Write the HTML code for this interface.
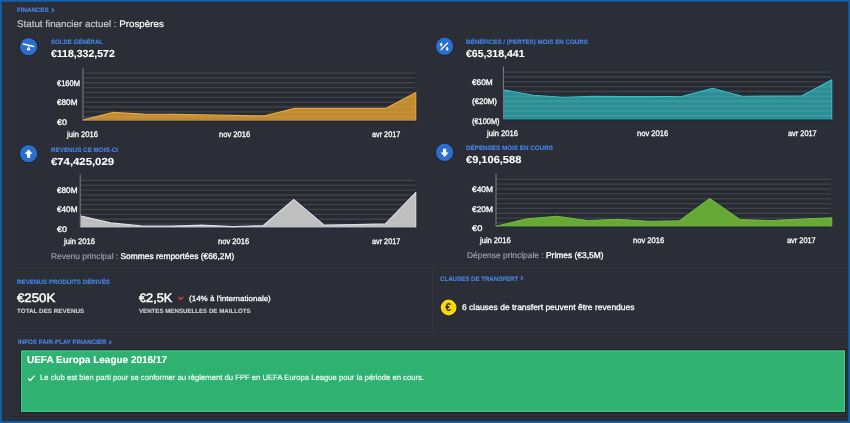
<!DOCTYPE html>
<html lang="fr"><head><meta charset="utf-8"><title>Finances</title>
<style>
html,body{margin:0;padding:0;background:#1e5fa2;}
body{width:850px;height:423px;overflow:hidden;font-family:"Liberation Sans",sans-serif;}
#app{position:relative;width:850px;height:423px;overflow:hidden;background:#1e5fa2;}
#b2{position:absolute;left:1px;top:1px;width:848px;height:421px;background:#0c559f;}
#inner{position:absolute;left:2px;top:2px;width:846px;height:419px;background:#2d2f38;}
#panel{position:absolute;left:11px;top:2px;width:837px;height:414px;background:#2c2e37;border-bottom:1.5px solid #24252d;}
.t{position:absolute;white-space:nowrap;line-height:1;transform-origin:0 0;display:block;-webkit-text-stroke-color:currentColor;text-rendering:geometricPrecision;}
.t span{-webkit-text-stroke-color:#c6c7cb;}
.sep{position:absolute;background:#31333c;}
#ffp{position:absolute;left:20px;top:349px;width:826px;height:64px;}
#coin{position:absolute;left:445.4px;top:302.8px;font-size:10px;font-weight:700;color:#2a2410;line-height:1;}
svg{position:absolute;left:0;top:0;}
</style></head><body>
<div id="app"><div id="b2"></div><div id="inner"></div><div id="panel"></div>
<div class="sep" style="left:11px;top:268px;width:837px;height:1px"></div>
<div class="sep" style="left:11px;top:331.5px;width:837px;height:1px"></div>
<div class="sep" style="left:432px;top:268px;width:1px;height:64px"></div>
<div id="ffp"></div>
<svg width="850" height="423" viewBox="0 0 850 423"><rect x="20" y="349.3" width="826" height="63.5" fill="#2b1630"/><rect x="21" y="350.4" width="824" height="61.5" fill="#2fb271"/><rect x="21.6" y="351" width="822.8" height="60.3" fill="none" stroke="#3ad88c" stroke-opacity="0.75" stroke-width="1.2"/><rect x="83.0" y="73.0" width="331.8" height="47.7" fill="#000" fill-opacity="0.07"/><line x1="83.0" y1="73.05" x2="414.8" y2="73.05" stroke="#41434a" stroke-width="1.35"/><line x1="83.0" y1="77.90" x2="414.8" y2="77.90" stroke="#41434a" stroke-width="1.35"/><line x1="83.0" y1="82.75" x2="414.8" y2="82.75" stroke="#41434a" stroke-width="1.35"/><line x1="83.0" y1="87.60" x2="414.8" y2="87.60" stroke="#41434a" stroke-width="1.35"/><line x1="83.0" y1="92.45" x2="414.8" y2="92.45" stroke="#41434a" stroke-width="1.35"/><line x1="83.0" y1="97.30" x2="414.8" y2="97.30" stroke="#41434a" stroke-width="1.35"/><line x1="83.0" y1="102.15" x2="414.8" y2="102.15" stroke="#41434a" stroke-width="1.35"/><line x1="83.0" y1="107.00" x2="414.8" y2="107.00" stroke="#41434a" stroke-width="1.35"/><line x1="83.0" y1="111.85" x2="414.8" y2="111.85" stroke="#41434a" stroke-width="1.35"/><line x1="83.0" y1="116.70" x2="414.8" y2="116.70" stroke="#41434a" stroke-width="1.35"/><polygon points="83.0,120.7 83.0,119.9 113.3,112.4 143.5,114.1 173.8,114.4 204.0,114.8 234.3,115.4 264.5,115.9 294.8,108.3 325.0,108.4 355.3,108.4 385.5,108.4 415.8,92.6 415.8,120.7" fill="none" stroke="#1a2040" stroke-width="2" stroke-linejoin="round"/><clipPath id="cp1"><polygon points="83.0,120.7 83.0,119.9 113.3,112.4 143.5,114.1 173.8,114.4 204.0,114.8 234.3,115.4 264.5,115.9 294.8,108.3 325.0,108.4 355.3,108.4 385.5,108.4 415.8,92.6 415.8,120.7"/></clipPath><polygon points="83.0,120.7 83.0,119.9 113.3,112.4 143.5,114.1 173.8,114.4 204.0,114.8 234.3,115.4 264.5,115.9 294.8,108.3 325.0,108.4 355.3,108.4 385.5,108.4 415.8,92.6 415.8,120.7" fill="#c08b30"/><g clip-path="url(#cp1)"><line x1="83.0" y1="73.05" x2="415.8" y2="73.05" stroke="#fff" stroke-opacity="0.07" stroke-width="1.35"/><line x1="83.0" y1="77.90" x2="415.8" y2="77.90" stroke="#fff" stroke-opacity="0.07" stroke-width="1.35"/><line x1="83.0" y1="82.75" x2="415.8" y2="82.75" stroke="#fff" stroke-opacity="0.07" stroke-width="1.35"/><line x1="83.0" y1="87.60" x2="415.8" y2="87.60" stroke="#fff" stroke-opacity="0.07" stroke-width="1.35"/><line x1="83.0" y1="92.45" x2="415.8" y2="92.45" stroke="#fff" stroke-opacity="0.07" stroke-width="1.35"/><line x1="83.0" y1="97.30" x2="415.8" y2="97.30" stroke="#fff" stroke-opacity="0.07" stroke-width="1.35"/><line x1="83.0" y1="102.15" x2="415.8" y2="102.15" stroke="#fff" stroke-opacity="0.07" stroke-width="1.35"/><line x1="83.0" y1="107.00" x2="415.8" y2="107.00" stroke="#fff" stroke-opacity="0.07" stroke-width="1.35"/><line x1="83.0" y1="111.85" x2="415.8" y2="111.85" stroke="#fff" stroke-opacity="0.07" stroke-width="1.35"/><line x1="83.0" y1="116.70" x2="415.8" y2="116.70" stroke="#fff" stroke-opacity="0.07" stroke-width="1.35"/></g><polyline points="83.0,119.9 113.3,112.4 143.5,114.1 173.8,114.4 204.0,114.8 234.3,115.4 264.5,115.9 294.8,108.3 325.0,108.4 355.3,108.4 385.5,108.4 415.8,92.6 415.8,120.7" fill="none" stroke="#eaa93a" stroke-width="1.1" stroke-linejoin="round"/><line x1="83.0" y1="68.00" x2="83.0" y2="120.70" stroke="#7c7e86" stroke-width="1"/><rect x="80.2" y="180.4" width="334.6" height="47.2" fill="#000" fill-opacity="0.07"/><line x1="80.2" y1="180.40" x2="414.8" y2="180.40" stroke="#41434a" stroke-width="1.35"/><line x1="80.2" y1="185.25" x2="414.8" y2="185.25" stroke="#41434a" stroke-width="1.35"/><line x1="80.2" y1="190.10" x2="414.8" y2="190.10" stroke="#41434a" stroke-width="1.35"/><line x1="80.2" y1="194.95" x2="414.8" y2="194.95" stroke="#41434a" stroke-width="1.35"/><line x1="80.2" y1="199.80" x2="414.8" y2="199.80" stroke="#41434a" stroke-width="1.35"/><line x1="80.2" y1="204.65" x2="414.8" y2="204.65" stroke="#41434a" stroke-width="1.35"/><line x1="80.2" y1="209.50" x2="414.8" y2="209.50" stroke="#41434a" stroke-width="1.35"/><line x1="80.2" y1="214.35" x2="414.8" y2="214.35" stroke="#41434a" stroke-width="1.35"/><line x1="80.2" y1="219.20" x2="414.8" y2="219.20" stroke="#41434a" stroke-width="1.35"/><line x1="80.2" y1="224.05" x2="414.8" y2="224.05" stroke="#41434a" stroke-width="1.35"/><polygon points="80.2,227.6 80.2,215.8 110.7,222.9 141.2,225.9 171.7,226.1 202.2,225.1 232.7,226.6 263.3,225.5 293.8,199.3 324.3,225.1 354.8,224.6 385.3,223.9 415.8,192.3 415.8,227.6" fill="none" stroke="#1a2040" stroke-width="2" stroke-linejoin="round"/><clipPath id="cp2"><polygon points="80.2,227.6 80.2,215.8 110.7,222.9 141.2,225.9 171.7,226.1 202.2,225.1 232.7,226.6 263.3,225.5 293.8,199.3 324.3,225.1 354.8,224.6 385.3,223.9 415.8,192.3 415.8,227.6"/></clipPath><polygon points="80.2,227.6 80.2,215.8 110.7,222.9 141.2,225.9 171.7,226.1 202.2,225.1 232.7,226.6 263.3,225.5 293.8,199.3 324.3,225.1 354.8,224.6 385.3,223.9 415.8,192.3 415.8,227.6" fill="#bfbfbf"/><g clip-path="url(#cp2)"><line x1="80.2" y1="180.40" x2="415.8" y2="180.40" stroke="#fff" stroke-opacity="0.00" stroke-width="1.35"/><line x1="80.2" y1="185.25" x2="415.8" y2="185.25" stroke="#fff" stroke-opacity="0.00" stroke-width="1.35"/><line x1="80.2" y1="190.10" x2="415.8" y2="190.10" stroke="#fff" stroke-opacity="0.00" stroke-width="1.35"/><line x1="80.2" y1="194.95" x2="415.8" y2="194.95" stroke="#fff" stroke-opacity="0.00" stroke-width="1.35"/><line x1="80.2" y1="199.80" x2="415.8" y2="199.80" stroke="#fff" stroke-opacity="0.00" stroke-width="1.35"/><line x1="80.2" y1="204.65" x2="415.8" y2="204.65" stroke="#fff" stroke-opacity="0.00" stroke-width="1.35"/><line x1="80.2" y1="209.50" x2="415.8" y2="209.50" stroke="#fff" stroke-opacity="0.00" stroke-width="1.35"/><line x1="80.2" y1="214.35" x2="415.8" y2="214.35" stroke="#fff" stroke-opacity="0.00" stroke-width="1.35"/><line x1="80.2" y1="219.20" x2="415.8" y2="219.20" stroke="#fff" stroke-opacity="0.00" stroke-width="1.35"/><line x1="80.2" y1="224.05" x2="415.8" y2="224.05" stroke="#fff" stroke-opacity="0.00" stroke-width="1.35"/></g><polyline points="80.2,215.8 110.7,222.9 141.2,225.9 171.7,226.1 202.2,225.1 232.7,226.6 263.3,225.5 293.8,199.3 324.3,225.1 354.8,224.6 385.3,223.9 415.8,192.3 415.8,227.6" fill="none" stroke="#dedede" stroke-width="1.1" stroke-linejoin="round"/><line x1="80.2" y1="174.60" x2="80.2" y2="227.60" stroke="#7c7e86" stroke-width="1"/><rect x="503.4" y="72.1" width="327.4" height="47.3" fill="#000" fill-opacity="0.07"/><line x1="503.4" y1="72.10" x2="830.8" y2="72.10" stroke="#41434a" stroke-width="1.35"/><line x1="503.4" y1="76.95" x2="830.8" y2="76.95" stroke="#41434a" stroke-width="1.35"/><line x1="503.4" y1="81.80" x2="830.8" y2="81.80" stroke="#41434a" stroke-width="1.35"/><line x1="503.4" y1="86.65" x2="830.8" y2="86.65" stroke="#41434a" stroke-width="1.35"/><line x1="503.4" y1="91.50" x2="830.8" y2="91.50" stroke="#41434a" stroke-width="1.35"/><line x1="503.4" y1="96.35" x2="830.8" y2="96.35" stroke="#41434a" stroke-width="1.35"/><line x1="503.4" y1="101.20" x2="830.8" y2="101.20" stroke="#41434a" stroke-width="1.35"/><line x1="503.4" y1="106.05" x2="830.8" y2="106.05" stroke="#41434a" stroke-width="1.35"/><line x1="503.4" y1="110.90" x2="830.8" y2="110.90" stroke="#41434a" stroke-width="1.35"/><line x1="503.4" y1="115.75" x2="830.8" y2="115.75" stroke="#41434a" stroke-width="1.35"/><polygon points="503.4,119.4 503.4,89.7 533.3,95.2 563.1,97.2 593.0,96.4 622.8,96.6 652.7,96.6 682.5,96.2 712.4,88.3 742.2,96.2 772.1,96.0 801.9,95.8 831.8,79.7 831.8,119.4" fill="none" stroke="#1a2040" stroke-width="2" stroke-linejoin="round"/><clipPath id="cp3"><polygon points="503.4,119.4 503.4,89.7 533.3,95.2 563.1,97.2 593.0,96.4 622.8,96.6 652.7,96.6 682.5,96.2 712.4,88.3 742.2,96.2 772.1,96.0 801.9,95.8 831.8,79.7 831.8,119.4"/></clipPath><polygon points="503.4,119.4 503.4,89.7 533.3,95.2 563.1,97.2 593.0,96.4 622.8,96.6 652.7,96.6 682.5,96.2 712.4,88.3 742.2,96.2 772.1,96.0 801.9,95.8 831.8,79.7 831.8,119.4" fill="#2c8f96"/><g clip-path="url(#cp3)"><line x1="503.4" y1="72.10" x2="831.8" y2="72.10" stroke="#fff" stroke-opacity="0.10" stroke-width="1.35"/><line x1="503.4" y1="76.95" x2="831.8" y2="76.95" stroke="#fff" stroke-opacity="0.10" stroke-width="1.35"/><line x1="503.4" y1="81.80" x2="831.8" y2="81.80" stroke="#fff" stroke-opacity="0.10" stroke-width="1.35"/><line x1="503.4" y1="86.65" x2="831.8" y2="86.65" stroke="#fff" stroke-opacity="0.10" stroke-width="1.35"/><line x1="503.4" y1="91.50" x2="831.8" y2="91.50" stroke="#fff" stroke-opacity="0.10" stroke-width="1.35"/><line x1="503.4" y1="96.35" x2="831.8" y2="96.35" stroke="#fff" stroke-opacity="0.10" stroke-width="1.35"/><line x1="503.4" y1="101.20" x2="831.8" y2="101.20" stroke="#fff" stroke-opacity="0.10" stroke-width="1.35"/><line x1="503.4" y1="106.05" x2="831.8" y2="106.05" stroke="#fff" stroke-opacity="0.10" stroke-width="1.35"/><line x1="503.4" y1="110.90" x2="831.8" y2="110.90" stroke="#fff" stroke-opacity="0.10" stroke-width="1.35"/><line x1="503.4" y1="115.75" x2="831.8" y2="115.75" stroke="#fff" stroke-opacity="0.10" stroke-width="1.35"/></g><polyline points="503.4,89.7 533.3,95.2 563.1,97.2 593.0,96.4 622.8,96.6 652.7,96.6 682.5,96.2 712.4,88.3 742.2,96.2 772.1,96.0 801.9,95.8 831.8,79.7 831.8,119.4" fill="none" stroke="#3cc0c0" stroke-width="1.1" stroke-linejoin="round"/><line x1="503.4" y1="66.40" x2="503.4" y2="119.40" stroke="#7c7e86" stroke-width="1"/><rect x="496.0" y="179.3" width="334.8" height="47.1" fill="#000" fill-opacity="0.07"/><line x1="496.0" y1="179.30" x2="830.8" y2="179.30" stroke="#41434a" stroke-width="1.35"/><line x1="496.0" y1="184.15" x2="830.8" y2="184.15" stroke="#41434a" stroke-width="1.35"/><line x1="496.0" y1="189.00" x2="830.8" y2="189.00" stroke="#41434a" stroke-width="1.35"/><line x1="496.0" y1="193.85" x2="830.8" y2="193.85" stroke="#41434a" stroke-width="1.35"/><line x1="496.0" y1="198.70" x2="830.8" y2="198.70" stroke="#41434a" stroke-width="1.35"/><line x1="496.0" y1="203.55" x2="830.8" y2="203.55" stroke="#41434a" stroke-width="1.35"/><line x1="496.0" y1="208.40" x2="830.8" y2="208.40" stroke="#41434a" stroke-width="1.35"/><line x1="496.0" y1="213.25" x2="830.8" y2="213.25" stroke="#41434a" stroke-width="1.35"/><line x1="496.0" y1="218.10" x2="830.8" y2="218.10" stroke="#41434a" stroke-width="1.35"/><line x1="496.0" y1="222.95" x2="830.8" y2="222.95" stroke="#41434a" stroke-width="1.35"/><polygon points="496.0,226.4 496.0,226.3 526.5,218.9 557.1,216.2 587.6,220.5 618.1,219.3 648.6,221.3 679.2,220.9 709.7,198.4 740.2,219.6 770.7,220.5 801.3,219.1 831.8,217.8 831.8,226.4" fill="none" stroke="#1a2040" stroke-width="2" stroke-linejoin="round"/><clipPath id="cp4"><polygon points="496.0,226.4 496.0,226.3 526.5,218.9 557.1,216.2 587.6,220.5 618.1,219.3 648.6,221.3 679.2,220.9 709.7,198.4 740.2,219.6 770.7,220.5 801.3,219.1 831.8,217.8 831.8,226.4"/></clipPath><polygon points="496.0,226.4 496.0,226.3 526.5,218.9 557.1,216.2 587.6,220.5 618.1,219.3 648.6,221.3 679.2,220.9 709.7,198.4 740.2,219.6 770.7,220.5 801.3,219.1 831.8,217.8 831.8,226.4" fill="#66a935"/><g clip-path="url(#cp4)"><line x1="496.0" y1="179.30" x2="831.8" y2="179.30" stroke="#fff" stroke-opacity="0.00" stroke-width="1.35"/><line x1="496.0" y1="184.15" x2="831.8" y2="184.15" stroke="#fff" stroke-opacity="0.00" stroke-width="1.35"/><line x1="496.0" y1="189.00" x2="831.8" y2="189.00" stroke="#fff" stroke-opacity="0.00" stroke-width="1.35"/><line x1="496.0" y1="193.85" x2="831.8" y2="193.85" stroke="#fff" stroke-opacity="0.00" stroke-width="1.35"/><line x1="496.0" y1="198.70" x2="831.8" y2="198.70" stroke="#fff" stroke-opacity="0.00" stroke-width="1.35"/><line x1="496.0" y1="203.55" x2="831.8" y2="203.55" stroke="#fff" stroke-opacity="0.00" stroke-width="1.35"/><line x1="496.0" y1="208.40" x2="831.8" y2="208.40" stroke="#fff" stroke-opacity="0.00" stroke-width="1.35"/><line x1="496.0" y1="213.25" x2="831.8" y2="213.25" stroke="#fff" stroke-opacity="0.00" stroke-width="1.35"/><line x1="496.0" y1="218.10" x2="831.8" y2="218.10" stroke="#fff" stroke-opacity="0.00" stroke-width="1.35"/><line x1="496.0" y1="222.95" x2="831.8" y2="222.95" stroke="#fff" stroke-opacity="0.00" stroke-width="1.35"/></g><polyline points="496.0,226.3 526.5,218.9 557.1,216.2 587.6,220.5 618.1,219.3 648.6,221.3 679.2,220.9 709.7,198.4 740.2,219.6 770.7,220.5 801.3,219.1 831.8,217.8 831.8,226.4" fill="none" stroke="#72b93e" stroke-width="1.1" stroke-linejoin="round"/><line x1="496.0" y1="173.60" x2="496.0" y2="226.40" stroke="#7c7e86" stroke-width="1"/><circle cx="28.6" cy="46.6" r="9.4" fill="#1c1d24"/><circle cx="28.6" cy="46.6" r="8.7" fill="#2a6fce"/><line x1="23.4" y1="43.9" x2="33.6" y2="46.4" stroke="#fff" stroke-width="1.5" stroke-linecap="round"/><polygon points="28.6,46.1 26.6,50.2 30.6,50.2" fill="#fff"/><circle cx="28.6" cy="153.6" r="9.4" fill="#1c1d24"/><circle cx="28.6" cy="153.6" r="8.7" fill="#2a6fce"/><polygon points="28.6,149.4 32.6,153.8 30.2,153.8 30.2,157.7 27,157.7 27,153.8 24.6,153.8" fill="#fff"/><circle cx="444.6" cy="46.3" r="9.4" fill="#1c1d24"/><circle cx="444.6" cy="46.3" r="8.7" fill="#2a6fce"/><line x1="440.7" y1="50" x2="448" y2="42.8" stroke="#fff" stroke-width="1.3"/><polygon points="441.2,42.6 443,44.8 441.9,44.8 441.9,46.6 440.5,46.6 440.5,44.8 439.4,44.8" fill="#fff"/><polygon points="447.2,51 449,48.8 447.9,48.8 447.9,47 446.5,47 446.5,48.8 445.4,48.8" fill="#fff"/><circle cx="444.6" cy="152.3" r="9.4" fill="#1c1d24"/><circle cx="444.6" cy="152.3" r="8.7" fill="#2a6fce"/><polygon points="444.6,157 448.6,152.6 446.2,152.6 446.2,148.7 443,148.7 443,152.6 440.6,152.6" fill="#fff"/><circle cx="448.6" cy="307.5" r="8.8" fill="#1a2140"/><circle cx="448.6" cy="307.5" r="7.9" fill="#f6d400"/><circle cx="448.6" cy="307.5" r="6.4" fill="none" stroke="#ffe01a" stroke-width="1"/><polyline points="51.8,8.5 53.7,10.3 51.8,12.1" fill="none" stroke="#4586ea" stroke-width="1.1"/><polyline points="520.8,276.3 522.7,278.1 520.8,279.9" fill="none" stroke="#4586ea" stroke-width="1.1"/><polyline points="109.2,340.4 111.1,342.2 109.2,344.0" fill="none" stroke="#4586ea" stroke-width="1.1"/><polyline points="178.4,297 180.8,299.2 183.2,297" fill="none" stroke="#e23f42" stroke-width="1.5"/><polyline points="28.4,378.6 30.3,380.5 34.3,375.9" fill="none" stroke="#fff" stroke-width="1.2" stroke-linecap="round" stroke-linejoin="round"/></svg>
<span id="coin">€</span>
<span class="t" id="t0" style="left:17.20px;top:8.00px;font-size:6.30px;font-weight:700;color:#4586ea;-webkit-text-stroke-width:0.10px;transform:scaleX(0.9786)">FINANCES</span>
<span class="t" id="t1" style="left:17.20px;top:20.00px;font-size:9.50px;font-weight:400;color:#fff;-webkit-text-stroke-width:0.20px;transform:scaleX(1.0295)"><span style="color:#c6c7cb">Statut financier actuel : </span>Prospères</span>
<span class="t" id="t2" style="left:50.70px;top:40.00px;font-size:6.30px;font-weight:700;color:#4586ea;-webkit-text-stroke-width:0.10px;transform:scaleX(0.9588)">SOLDE GÉNÉRAL</span>
<span class="t" id="t3" style="left:50.70px;top:50.00px;font-size:10.20px;font-weight:700;color:#fff;-webkit-text-stroke-width:0.10px;transform:scaleX(1.0329)">€118,332,572</span>
<span class="t" id="t4" style="left:57.00px;top:80.00px;font-size:8.10px;font-weight:400;color:#fff;-webkit-text-stroke-width:0.30px;transform:scaleX(0.9293)">€160M</span>
<span class="t" id="t5" style="left:57.00px;top:99.00px;font-size:8.10px;font-weight:400;color:#fff;-webkit-text-stroke-width:0.30px;transform:scaleX(1.0123)">€80M</span>
<span class="t" id="t6" style="left:57.00px;top:119.00px;font-size:8.10px;font-weight:400;color:#fff;-webkit-text-stroke-width:0.30px;transform:scaleX(1.1092)">€0</span>
<span class="t" id="t7" style="left:67.00px;top:131.00px;font-size:8.10px;font-weight:400;color:#fff;-webkit-text-stroke-width:0.30px;transform:scaleX(0.9434)">juin 2016</span>
<span class="t" id="t8" style="left:218.70px;top:131.00px;font-size:8.10px;font-weight:400;color:#fff;-webkit-text-stroke-width:0.30px;transform:scaleX(0.9396)">nov 2016</span>
<span class="t" id="t9" style="left:372.00px;top:131.00px;font-size:8.10px;font-weight:400;color:#fff;-webkit-text-stroke-width:0.30px;transform:scaleX(0.8984)">avr 2017</span>
<span class="t" id="t10" style="left:50.70px;top:148.00px;font-size:6.30px;font-weight:700;color:#4586ea;-webkit-text-stroke-width:0.10px;transform:scaleX(0.9972)">REVENUS CE MOIS-CI</span>
<span class="t" id="t11" style="left:50.70px;top:158.00px;font-size:10.20px;font-weight:700;color:#fff;-webkit-text-stroke-width:0.10px;transform:scaleX(1.1120)">€74,425,029</span>
<span class="t" id="t12" style="left:57.00px;top:187.00px;font-size:8.10px;font-weight:400;color:#fff;-webkit-text-stroke-width:0.30px;transform:scaleX(1.0123)">€80M</span>
<span class="t" id="t13" style="left:57.00px;top:206.00px;font-size:8.10px;font-weight:400;color:#fff;-webkit-text-stroke-width:0.30px;transform:scaleX(1.0123)">€40M</span>
<span class="t" id="t14" style="left:57.00px;top:226.00px;font-size:8.10px;font-weight:400;color:#fff;-webkit-text-stroke-width:0.30px;transform:scaleX(1.1092)">€0</span>
<span class="t" id="t15" style="left:64.20px;top:238.00px;font-size:8.10px;font-weight:400;color:#fff;-webkit-text-stroke-width:0.30px;transform:scaleX(0.9434)">juin 2016</span>
<span class="t" id="t16" style="left:217.90px;top:238.00px;font-size:8.10px;font-weight:400;color:#fff;-webkit-text-stroke-width:0.30px;transform:scaleX(0.9396)">nov 2016</span>
<span class="t" id="t17" style="left:372.00px;top:238.00px;font-size:8.10px;font-weight:400;color:#fff;-webkit-text-stroke-width:0.30px;transform:scaleX(0.8984)">avr 2017</span>
<span class="t" id="t18" style="left:50.70px;top:252.00px;font-size:8.40px;font-weight:400;color:#fff;-webkit-text-stroke-width:0.30px;transform:scaleX(1.0019)"><span style="color:#a6a8ae;-webkit-text-stroke:0.1px #a6a8ae">Revenu principal : </span>Sommes remportées (€66,2M)</span>
<span class="t" id="t19" style="left:466.20px;top:40.00px;font-size:6.30px;font-weight:700;color:#4586ea;-webkit-text-stroke-width:0.10px;transform:scaleX(0.9877)">BÉNÉFICES / (PERTES) MOIS EN COURS</span>
<span class="t" id="t20" style="left:466.20px;top:50.00px;font-size:10.20px;font-weight:700;color:#fff;-webkit-text-stroke-width:0.10px;transform:scaleX(1.0325)">€65,318,441</span>
<span class="t" id="t21" style="left:472.20px;top:79.00px;font-size:8.10px;font-weight:400;color:#fff;-webkit-text-stroke-width:0.30px;transform:scaleX(1.0272)">€60M</span>
<span class="t" id="t22" style="left:472.20px;top:98.00px;font-size:8.10px;font-weight:400;color:#fff;-webkit-text-stroke-width:0.30px;transform:scaleX(0.9750)">(€20M)</span>
<span class="t" id="t23" style="left:472.20px;top:118.00px;font-size:8.10px;font-weight:400;color:#fff;-webkit-text-stroke-width:0.30px;transform:scaleX(0.9124)">(€100M)</span>
<span class="t" id="t24" style="left:487.20px;top:130.00px;font-size:8.10px;font-weight:400;color:#fff;-webkit-text-stroke-width:0.30px;transform:scaleX(0.9434)">juin 2016</span>
<span class="t" id="t25" style="left:637.30px;top:130.00px;font-size:8.10px;font-weight:400;color:#fff;-webkit-text-stroke-width:0.30px;transform:scaleX(0.9396)">nov 2016</span>
<span class="t" id="t26" style="left:788.00px;top:130.00px;font-size:8.10px;font-weight:400;color:#fff;-webkit-text-stroke-width:0.30px;transform:scaleX(0.9111)">avr 2017</span>
<span class="t" id="t27" style="left:466.20px;top:146.00px;font-size:6.30px;font-weight:700;color:#4586ea;-webkit-text-stroke-width:0.10px;transform:scaleX(0.9986)">DÉPENSES MOIS EN COURS</span>
<span class="t" id="t28" style="left:466.20px;top:156.00px;font-size:10.20px;font-weight:700;color:#fff;-webkit-text-stroke-width:0.10px;transform:scaleX(1.0843)">€9,106,588</span>
<span class="t" id="t29" style="left:472.20px;top:186.00px;font-size:8.10px;font-weight:400;color:#fff;-webkit-text-stroke-width:0.30px;transform:scaleX(1.0370)">€40M</span>
<span class="t" id="t30" style="left:472.20px;top:206.00px;font-size:8.10px;font-weight:400;color:#fff;-webkit-text-stroke-width:0.30px;transform:scaleX(1.0370)">€20M</span>
<span class="t" id="t31" style="left:472.20px;top:225.00px;font-size:8.10px;font-weight:400;color:#fff;-webkit-text-stroke-width:0.30px;transform:scaleX(1.1425)">€0</span>
<span class="t" id="t32" style="left:479.70px;top:237.00px;font-size:8.10px;font-weight:400;color:#fff;-webkit-text-stroke-width:0.30px;transform:scaleX(0.9343)">juin 2016</span>
<span class="t" id="t33" style="left:633.00px;top:237.00px;font-size:8.10px;font-weight:400;color:#fff;-webkit-text-stroke-width:0.30px;transform:scaleX(0.9396)">nov 2016</span>
<span class="t" id="t34" style="left:787.20px;top:237.00px;font-size:8.10px;font-weight:400;color:#fff;-webkit-text-stroke-width:0.30px;transform:scaleX(0.9111)">avr 2017</span>
<span class="t" id="t35" style="left:466.50px;top:251.00px;font-size:8.40px;font-weight:400;color:#fff;-webkit-text-stroke-width:0.30px;transform:scaleX(1.0041)"><span style="color:#a6a8ae;-webkit-text-stroke:0.1px #a6a8ae">Dépense principale : </span>Primes (€3,5M)</span>
<span class="t" id="t36" style="left:17.20px;top:280.00px;font-size:6.30px;font-weight:700;color:#4586ea;-webkit-text-stroke-width:0.10px;transform:scaleX(0.9880)">REVENUS PRODUITS DÉRIVÉS</span>
<span class="t" id="t37" style="left:17.20px;top:292.00px;font-size:12.30px;font-weight:400;color:#fff;-webkit-text-stroke-width:0.45px;transform:scaleX(1.0770)">€250K</span>
<span class="t" id="t38" style="left:138.80px;top:292.00px;font-size:12.30px;font-weight:400;color:#fff;-webkit-text-stroke-width:0.45px;transform:scaleX(1.0330)">€2,5K</span>
<span class="t" id="t39" style="left:188.80px;top:295.00px;font-size:7.50px;font-weight:400;color:#fff;-webkit-text-stroke-width:0.25px;transform:scaleX(1.0695)">(14% à l'internationale)</span>
<span class="t" id="t40" style="left:17.20px;top:309.00px;font-size:6.20px;font-weight:700;color:#d0d1d4;-webkit-text-stroke-width:0.10px;transform:scaleX(1.0195)">TOTAL DES REVENUS</span>
<span class="t" id="t41" style="left:138.50px;top:309.00px;font-size:6.20px;font-weight:700;color:#d0d1d4;-webkit-text-stroke-width:0.10px;transform:scaleX(0.9918)">VENTES MENSUELLES DE MAILLOTS</span>
<span class="t" id="t42" style="left:440.20px;top:277.00px;font-size:6.30px;font-weight:700;color:#4586ea;-webkit-text-stroke-width:0.10px;transform:scaleX(0.9730)">CLAUSES DE TRANSFERT</span>
<span class="t" id="t43" style="left:462.00px;top:303.00px;font-size:8.30px;font-weight:400;color:#fff;-webkit-text-stroke-width:0.25px;transform:scaleX(1.0218)">6 clauses de transfert peuvent être revendues</span>
<span class="t" id="t44" style="left:18.00px;top:340.00px;font-size:6.30px;font-weight:700;color:#4586ea;-webkit-text-stroke-width:0.10px;transform:scaleX(0.9880)">INFOS FAIR-PLAY FINANCIER</span>
<span class="t" id="t45" style="left:27.00px;top:356.00px;font-size:10.00px;font-weight:700;color:#fff;-webkit-text-stroke-width:0.10px;transform:scaleX(0.9982)">UEFA Europa League 2016/17</span>
<span class="t" id="t46" style="left:40.00px;top:374.00px;font-size:7.70px;font-weight:400;color:#f2fff8;-webkit-text-stroke-width:0.15px;transform:scaleX(0.9995)">Le club est bien parti pour se conformer au règlement du FPF en UEFA Europa League pour la période en cours.</span>

</div></body></html>
